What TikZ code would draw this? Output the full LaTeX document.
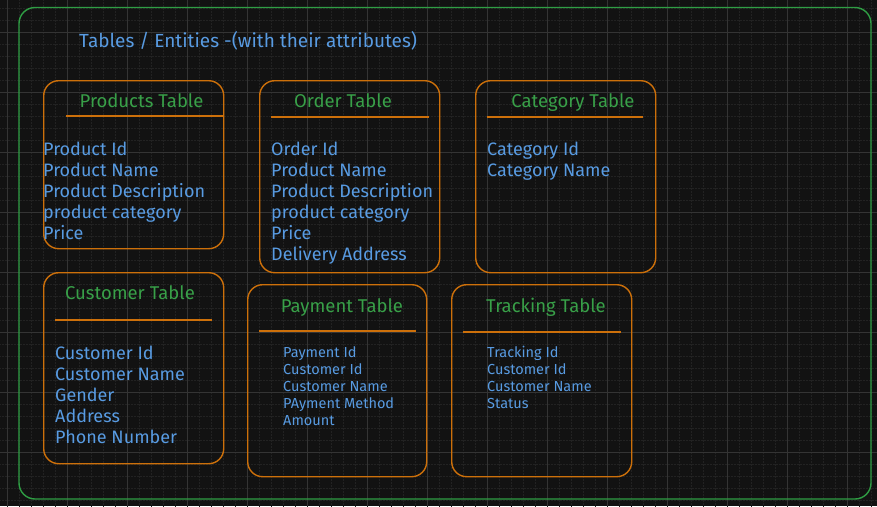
\documentclass[tikz,border=0pt]{standalone}
\usepackage{fontspec}
\setmainfont{Fira Sans}
\usepackage{tikz}

\definecolor{bgdark}{RGB}{18,18,18}
\definecolor{gridmajor}{RGB}{52,52,52}
\definecolor{gridminor}{RGB}{34,34,34}
\definecolor{framegreen}{RGB}{47,158,68}
\definecolor{boxorange}{RGB}{205,112,10}
\definecolor{txtblue}{RGB}{88,155,226}
\definecolor{txtgreen}{RGB}{56,160,72}

\begin{document}
\begin{tikzpicture}[x=1pt,y=-1pt,
  table box/.style={draw=boxorange,line width=1.4pt,rounded corners=15pt,anchor=north west,inner sep=0pt},
  head/.style={text=txtgreen,anchor=base,inner sep=0pt,font=\fontsize{18.5}{20}\selectfont},
  sep/.style={draw=boxorange,line width=2pt},
  items/.style={text=txtblue,anchor=base west,inner sep=0pt,align=left,font=\fontsize{18}{21}\selectfont},
  small items/.style={items,font=\fontsize{14.5}{17}\selectfont}]
  % background and grid
  \fill[bgdark] (0,0) rectangle (877,506);
  \useasboundingbox (0,0) rectangle (877,506);
  \foreach \x in {7,19,...,877} \draw[gridminor,densely dotted,line width=0.5pt] (\x,0) -- (\x,506);
  \foreach \y in {8,20,...,506} \draw[gridminor,densely dotted,line width=0.5pt] (0,\y) -- (877,\y);
  \foreach \x in {7,67,...,877} \draw[gridmajor,line width=0.7pt] (\x,0) -- (\x,506);
  \foreach \y in {32,92,...,506} \draw[gridmajor,line width=0.7pt] (0,\y) -- (877,\y);

  % outer frame
  \draw[framegreen,line width=1.4pt,rounded corners=16pt] (19,7.5) rectangle (871,499);
  \node[items,font=\fontsize{19}{20}\selectfont] (title) at (79,47) {Tables / Entities -(with their attributes)};

  % tables
  \node[table box,minimum width=180pt,minimum height=168pt] (prod) at (43,80) {};
  \node[table box,minimum width=180pt,minimum height=192pt] (ord) at (259,80) {};
  \node[table box,minimum width=180pt,minimum height=192pt] (cat) at (475,80) {};
  \node[table box,minimum width=180pt,minimum height=191pt] (cust) at (43,272) {};
  \node[table box,minimum width=179pt,minimum height=192pt] (pay) at (247,284) {};
  \node[table box,minimum width=180pt,minimum height=192pt] (track) at (451,284) {};

  \node[head] (prodh) at (141.5,107) {Products Table};
  \node[head] (ordh) at (343,107) {Order Table};
  \node[head] (cath) at (573,107) {Category Table};
  \node[head] (custh) at (130,299) {Customer Table};
  \node[head] (payh) at (342,312) {Payment Table};
  \node[head] (trackh) at (546,312) {Tracking Table};

  \draw[sep] (66,116) -- (222.5,116);
  \draw[sep] (271,117) -- (429,117);
  \draw[sep] (487,117) -- (643,117);
  \draw[sep] (55,320) -- (212,320);
  \draw[sep] (259,331) -- (416,331);
  \draw[sep] (463,332) -- (621,332);

  % lists (base = last line)
  \node[items] (prodi) at (43,239) {Product Id\\Product Name\\Product Description\\product category\\Price};
  \node[items] (ordi) at (271,260) {Order Id\\Product Name\\Product Description\\product category\\Price\\Delivery Address};
  \node[items] (cati) at (487,176) {Category Id\\Category Name};
  \node[items] (custi) at (55,443) {Customer Id\\Customer Name\\Gender\\Address\\Phone Number};
  \node[small items] (payi) at (283,425) {Payment Id\\Customer Id\\Customer Name\\PAyment Method\\Amount};
  \node[small items] (tracki) at (487,408) {Tracking Id\\Customer Id\\Customer Name\\Status};
\end{tikzpicture}
\end{document}
